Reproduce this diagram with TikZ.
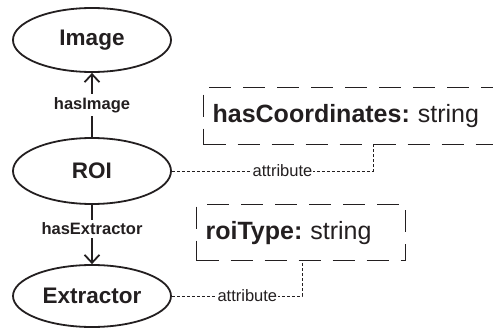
\documentclass[tikz,border=0pt]{standalone}
\usepackage{fontspec}
\setmainfont{Liberation Sans}
\usetikzlibrary{shapes.geometric,arrows.meta}
\definecolor{ink}{RGB}{35,31,32}
\begin{document}
\begin{tikzpicture}[x=1pt, y=-1pt, >={Straight Barb[length=8pt,width=15pt]},
  concept/.style={ellipse, draw=ink, line width=1.8pt, minimum width=158pt, minimum height=64pt, inner sep=0pt, font=\fontsize{22.5}{26}\selectfont\bfseries, text=ink},
  rel/.style={->, draw=ink, line width=1.8pt},
  rellbl/.style={fill=white, inner sep=3pt, font=\fontsize{16.5}{19}\selectfont\bfseries, text=ink},
  attrbox/.style={draw=ink, line width=1.2pt, dash pattern=on 22pt off 12pt, anchor=north west, inner xsep=9pt, inner ysep=0pt, align=left, font=\fontsize{25}{29}\selectfont, text=ink},
  attrline/.style={draw=ink, line width=0.8pt, dash pattern=on 3pt off 2pt},
  attrlbl/.style={fill=white, inner sep=1pt, font=\fontsize{16.5}{18}\selectfont, text=ink}]
\useasboundingbox (0,0) rectangle (493,329);
\node[concept] (image) at (92,40){Image};
\node[concept, minimum height=66pt] (roi) at (92,171){ROI};
\node[concept, minimum height=62pt] (extractor) at (92,296){Extractor};
\draw[rel] (roi)--node[rellbl]{hasImage}(image);
\draw[rel] (roi)--node[rellbl, pos=.4]{hasExtractor}(extractor);
\node[attrbox, minimum height=57pt, text width=290pt] (coords) at (203,87){\textbf{hasCoordinates:}\hspace{8pt}string};
\node[attrbox, minimum height=56pt, text width=191pt] (roitype) at (196,204){\textbf{roiType:}\hspace{8pt}string};
\coordinate (coordsfoot) at (373,144);
\coordinate (typefoot) at (302,260);
\draw[attrline] (roi.east)--node[attrlbl, pos=.55]{attribute}(roi.east -| coordsfoot)--(coordsfoot);
\draw[attrline] (extractor.east)--node[attrlbl, pos=.58]{attribute}(extractor.east -| typefoot)--(typefoot);
\end{tikzpicture}
\end{document}
